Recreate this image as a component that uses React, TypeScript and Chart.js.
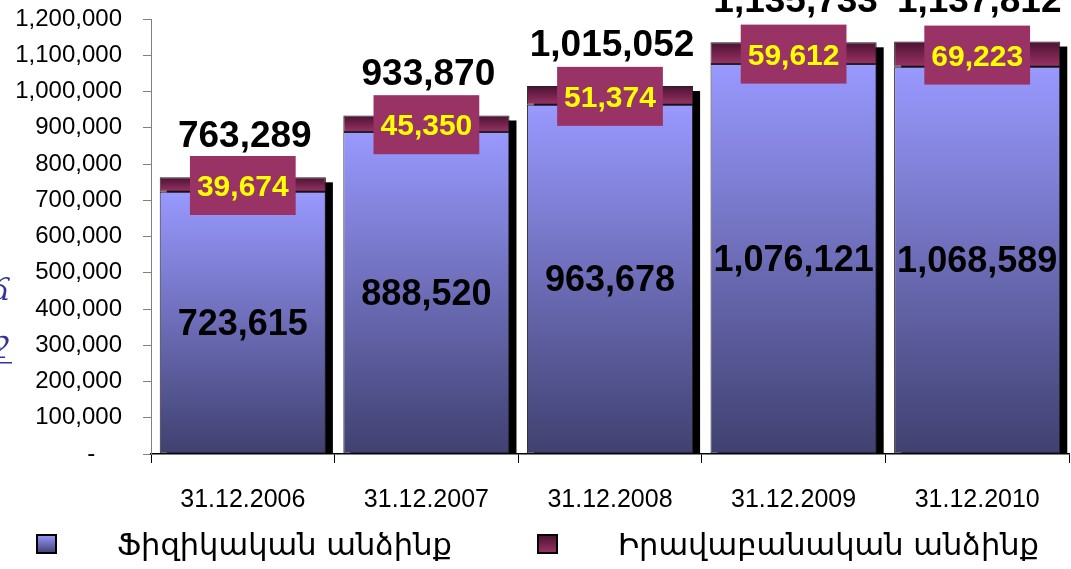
import React, { useEffect, useRef } from "react";
import { Chart, registerables } from "chart.js";

Chart.register(...registerables);

const categories = ["31.12.2006", "31.12.2007", "31.12.2008", "31.12.2009", "31.12.2010"];
const physicalPersons = [723615, 888520, 963678, 1076121, 1068589];
const legalPersons = [39674, 45350, 51374, 59612, 69223];
const totals = [763289, 933870, 1015052, 1135733, 1137812];
const seriesNames = ["Ֆիզիկական անձինք", "Իրավաբանական անձինք"];
const yTickMax = 1200000;
const yTickStep = 100000;

const NUM = '"Liberation Sans", Arial, sans-serif';
const fmt = (v: number) => v.toLocaleString("en-US");

const blueGrad = (ctx: CanvasRenderingContext2D, top: number, bottom: number) => {
  const g = ctx.createLinearGradient(0, top, 0, bottom);
  g.addColorStop(0, "#9999ff");
  g.addColorStop(1, "#404070");
  return g;
};
const maroonGrad = (ctx: CanvasRenderingContext2D, top: number, bottom: number) => {
  const g = ctx.createLinearGradient(0, top, 0, bottom);
  g.addColorStop(0, "#4a1230");
  g.addColorStop(1, "#9a3366");
  return g;
};

const decorPlugin = {
  id: "decor",
  beforeDatasetsDraw(chart: any) {
    const { ctx } = chart;
    const m0 = chart.getDatasetMeta(0);
    const m1 = chart.getDatasetMeta(1);
    ctx.save();
    ctx.fillStyle = "#000";
    m1.data.forEach((bar: any, i: number) => {
      const b0 = m0.data[i];
      const w = bar.width;
      const top = bar.y + 5;
      ctx.fillRect(bar.x - w / 2 + 7, top, w, b0.base - top);
    });
    ctx.restore();
  },
  afterDatasetsDraw(chart: any) {
    const { ctx } = chart;
    const m0 = chart.getDatasetMeta(0);
    const m1 = chart.getDatasetMeta(1);
    ctx.save();
    ctx.textAlign = "center";
    ctx.textBaseline = "alphabetic";
    m0.data.forEach((b0: any, i: number) => {
      const b1 = m1.data[i];
      const cx = b0.x;
      const base = b0.base;
      const mid = b0.y;
      const top = b1.y;
      // inner label
      ctx.font = `bold 36px ${NUM}`;
      ctx.fillStyle = "#000";
      ctx.fillText(fmt(physicalPersons[i]), cx, (mid + base) / 2 + 12);
      // maroon box label
      ctx.font = `bold 30px ${NUM}`;
      const txt = fmt(legalPersons[i]);
      const tw = ctx.measureText(txt).width;
      const bw = tw + 14;
      const bh = 59;
      const cy = (top + mid) / 2 + 1;
      ctx.fillStyle = "#993366";
      ctx.fillRect(cx - bw / 2, cy - bh / 2, bw, bh);
      ctx.fillStyle = "#ffff00";
      ctx.fillText(txt, cx, cy + 10.5);
      // total label
      ctx.font = `bold 37px ${NUM}`;
      ctx.fillStyle = "#000";
      ctx.fillText(fmt(totals[i]), cx + 2, top - 30);
    });
    ctx.restore();
  },
  afterDraw(chart: any) {
    const { ctx } = chart;
    ctx.save();
    // legend
    const items = [
      { x: 37, tx: 117, grad: blueGrad },
      { x: 538, tx: 618, grad: maroonGrad },
    ];
    items.forEach((it, i) => {
      ctx.fillStyle = it.grad(ctx, 535, 553);
      ctx.fillRect(it.x, 535, 19, 18);
      ctx.strokeStyle = "#000";
      ctx.lineWidth = 2;
      ctx.strokeRect(it.x, 535, 19, 18);
      ctx.fillStyle = "#000";
      ctx.font = `30.5px "DejaVu Sans", sans-serif`;
      ctx.textAlign = "left";
      ctx.textBaseline = "alphabetic";
      ctx.fillText(chart.data.datasets[i].label, it.tx, 555);
    });
    // cut-off fragments at the left edge
    ctx.fillStyle = "#333399";
    ctx.font = `italic 30px "DejaVu Serif", serif`;
    ctx.fillText("ճ", -9, 300);
    ctx.fillText("ջ", -8, 352);
    ctx.fillRect(0, 362, 12, 1.5);
    ctx.restore();
  },
};

export default function App() {
  const ref = useRef<HTMLCanvasElement | null>(null);
  useEffect(() => {
    if (!ref.current) return;
    const chart = new Chart(ref.current, {
      type: "bar",
      data: {
        labels: categories,
        datasets: [
          {
            label: seriesNames[0],
            data: physicalPersons,
            backgroundColor: (c: any) => {
              const ch = c.chart;
              if (!ch.chartArea || c.type !== "data") return "#8080d0";
              const y = ch.scales.y;
              return blueGrad(ch.ctx, y.getPixelForValue(physicalPersons[c.dataIndex]), y.getPixelForValue(0));
            },
            borderColor: "#222",
            borderWidth: 1,
            borderSkipped: false,
          },
          {
            label: seriesNames[1],
            data: legalPersons,
            backgroundColor: (c: any) => {
              const ch = c.chart;
              if (!ch.chartArea || c.type !== "data") return "#803050";
              const y = ch.scales.y;
              return maroonGrad(
                ch.ctx,
                y.getPixelForValue(totals[c.dataIndex]),
                y.getPixelForValue(physicalPersons[c.dataIndex])
              );
            },
            borderColor: "#222",
            borderWidth: 1,
            borderSkipped: false,
          },
        ],
      },
      options: {
        responsive: false,
        animation: false,
        layout: { padding: { top: 19, right: 2, bottom: 32, left: 0 } },
        datasets: { bar: { barPercentage: 0.905, categoryPercentage: 1 } },
        plugins: { legend: { display: false }, tooltip: { enabled: false } },
        scales: {
          x: {
            stacked: true,
            border: { color: "#000", width: 1.5 },
            grid: { drawOnChartArea: false, tickLength: 9, color: "#000", offset: true },
            ticks: { color: "#000", font: { family: NUM, size: 25 }, padding: 22 },
          },
          y: {
            stacked: true,
            min: 0,
            max: yTickMax,
            afterFit: (s: any) => {
              s.width = 151;
              s.paddingTop = 0;
              s.paddingBottom = 0;
            },
            border: { color: "#808080", width: 1 },
            grid: { drawOnChartArea: false, tickLength: 8, color: "#808080" },
            ticks: {
              stepSize: yTickStep,
              color: "#000",
              font: { family: NUM, size: 24 },
              padding: 21,
              callback: (v: any) => (Number(v) === 0 ? "-    " : fmt(Number(v))),
            },
          },
        },
      },
      plugins: [decorPlugin],
    });
    return () => chart.destroy();
  }, []);
  return (
    <div style={{ position: "absolute", left: 0, top: 0, width: 1071, height: 569, background: "#fff" }}>
      <canvas ref={ref} width={1071} height={569} />
    </div>
  );
}
